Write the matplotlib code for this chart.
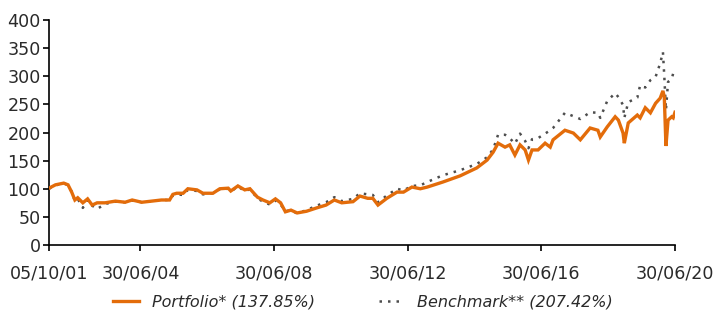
import numpy as np
import pandas as pd
import matplotlib
matplotlib.use("Agg")
import matplotlib.pyplot as plt

# portfolio, index rebased to 100 at 05/10/01
port_dates = ["2001-10-05", "2001-12-15", "2002-03-15", "2002-05-01", "2002-06-10",
              "2002-07-15", "2002-08-15", "2002-10-10", "2002-12-01", "2003-01-20",
              "2003-03-15", "2003-06-10", "2003-10-01", "2004-01-15", "2004-04-01",
              "2004-07-15", "2004-11-01", "2005-02-15", "2005-05-15", "2005-06-20",
              "2005-08-01", "2005-10-10", "2005-12-01", "2006-03-10", "2006-05-15",
              "2006-09-01", "2006-11-15", "2007-02-15", "2007-03-15", "2007-06-01",
              "2007-08-15", "2007-10-10", "2008-01-01", "2008-03-01", "2008-05-15",
              "2008-07-15", "2008-09-10", "2008-11-01", "2009-01-01", "2009-03-10",
              "2009-06-20", "2009-10-10", "2010-01-20", "2010-04-20", "2010-07-10",
              "2010-11-10", "2011-01-25", "2011-04-20", "2011-06-15", "2011-08-10",
              "2011-11-15", "2012-03-05", "2012-05-15", "2012-08-15", "2012-11-15",
              "2013-01-30", "2013-07-20", "2014-01-25", "2014-07-25", "2014-11-15",
              "2015-01-20", "2015-03-15", "2015-05-30", "2015-07-20", "2015-09-15",
              "2015-11-10", "2016-01-05", "2016-02-10", "2016-03-20", "2016-05-25",
              "2016-08-10", "2016-10-05", "2016-11-05", "2017-03-15", "2017-06-15",
              "2017-08-30", "2017-12-15", "2018-03-10", "2018-04-05", "2018-06-20",
              "2018-09-15", "2018-10-20", "2018-12-10", "2018-12-24", "2019-02-05",
              "2019-05-15", "2019-06-15", "2019-08-10", "2019-10-05", "2019-12-01",
              "2020-01-20", "2020-02-19", "2020-03-05", "2020-03-23", "2020-04-15",
              "2020-05-25", "2020-06-10", "2020-06-30"]
port_vals = [101, 107, 110, 107, 94,
             80, 84, 75, 82, 71,
             75, 75, 78, 76, 80,
             76, 78, 80, 80, 90,
             92, 92, 100, 98, 92,
             92, 100, 101, 96, 105,
             98, 100, 85, 80, 75,
             82, 75, 59, 62, 57,
             60, 66, 71, 80, 75,
             77, 87, 83, 83, 71,
             83, 94, 94, 103, 100,
             103, 112, 123, 137, 151,
             165, 181, 174, 178, 160,
             178, 169, 151, 169, 169,
             181, 174, 187, 204, 199,
             187, 208, 204, 192, 210,
             228, 222, 199, 181, 217,
             231, 226, 244, 235, 252,
             261, 274, 263, 176, 222,
             228, 226, 236]

bench_dates = port_dates
bench_vals = [100, 106, 110, 106, 95,
              78, 82, 66, 80, 70,
              64, 73, 77, 76, 79,
              76, 78, 80, 80, 88,
              90, 89, 98, 96, 90,
              92, 99, 100, 95, 104,
              96, 99, 83, 77, 72,
              79, 72, 60, 62, 56,
              62, 70, 76, 85, 78,
              82, 92, 90, 89, 76,
              88, 100, 97, 105, 106,
              112, 124, 133, 144, 156,
              170, 196, 196, 190, 180,
              198, 185, 172, 188, 190,
              198, 204, 208, 235, 229,
              224, 236, 235, 226, 256,
              270, 263, 249, 226, 254,
              262, 284, 280, 293, 299,
              323, 343, 300, 240, 290,
              295, 305, 308]

port_label = "Portfolio* (137.85%)"
bench_label = "Benchmark** (207.42%)"
tick_dates = ["2001-10-05", "2004-06-30", "2008-06-30", "2012-06-30", "2016-06-30", "2020-06-30"]
tick_labels = ["05/10/01", "30/06/04", "30/06/08", "30/06/12", "30/06/16", "30/06/20"]

fig = plt.figure(figsize=(7.15, 3.12), dpi=100)
ax = fig.add_axes([49 / 715, 67 / 312, 626 / 715, 225 / 312])

ax.plot(pd.to_datetime(bench_dates), bench_vals, color="#4d4d4d", lw=1.8,
        linestyle=(0, (1, 2.4)), label=bench_label, zorder=2)
ax.plot(pd.to_datetime(port_dates), port_vals, color="#E36C0A", lw=2.4,
        label=port_label, zorder=3, solid_joinstyle="miter")

ax.set_ylim(0, 400)
ax.set_yticks(range(0, 401, 50))
ax.set_xlim(pd.Timestamp(tick_dates[0]), pd.Timestamp(tick_dates[-1]))
ax.set_xticks(pd.to_datetime(tick_dates))
ax.set_xticklabels(tick_labels)

for s in ["top", "right"]:
    ax.spines[s].set_visible(False)
for s in ["left", "bottom"]:
    ax.spines[s].set_linewidth(1.2)
ax.tick_params(axis="both", direction="out", length=4, width=1.2, labelsize=12.6, colors="black")
ax.tick_params(axis="x", pad=10)
ax.tick_params(axis="y", pad=2)
for lbl in ax.get_xticklabels() + ax.get_yticklabels():
    lbl.set_color("#2a2a2a")

h, l = ax.get_legend_handles_labels()
leg = fig.legend(h[::-1], l[::-1], ncol=2, loc="center", bbox_to_anchor=(363 / 715, 10 / 312),
                 frameon=False, prop={"style": "italic", "size": 11.5},
                 handlelength=1.6, handletextpad=0.8, columnspacing=4.0)
for t in leg.get_texts():
    t.set_color("#2a2a2a")

fig.savefig("out.png", dpi=100)
